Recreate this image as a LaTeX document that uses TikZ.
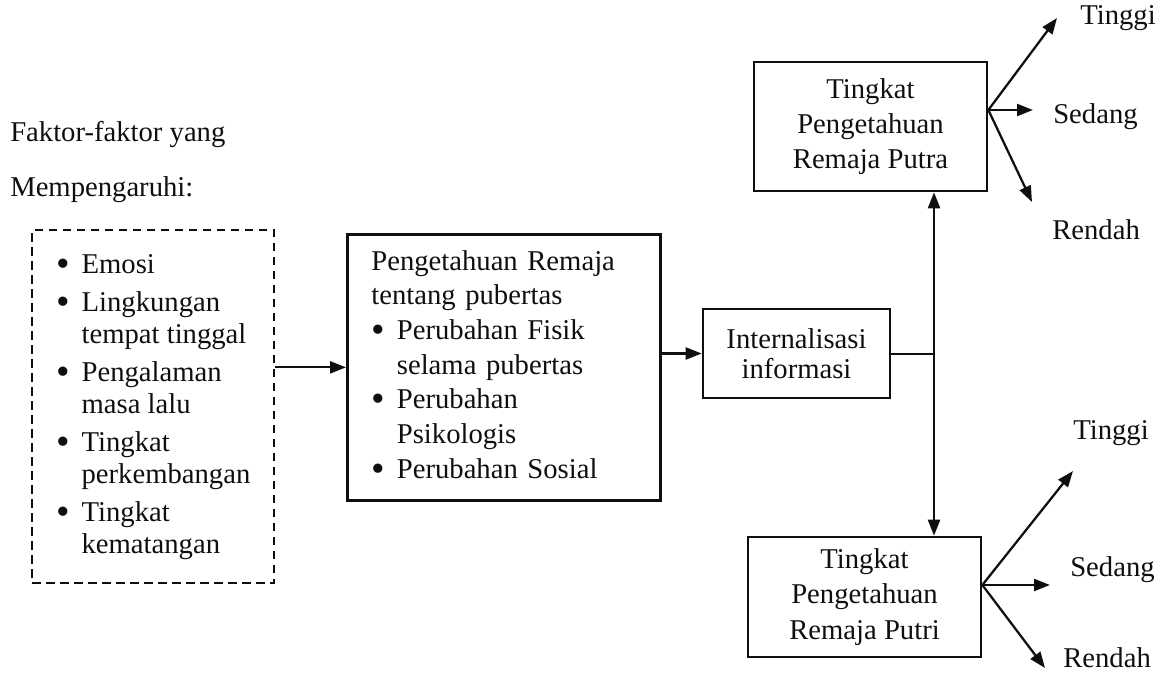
\documentclass[tikz,border=0pt]{standalone}
\usepackage{fontspec}
\setmainfont{Liberation Serif}
\usepackage{xcolor}
\usepackage{tikz}
\usetikzlibrary{positioning, arrows.meta}
\definecolor{tinta}{HTML}{0F0F0F}
\newcommand{\butir}{\raisebox{-2.2pt}{\scalebox{1.35}{\textbullet}}}

\tikzset{
  kotak/.style={draw=tinta, line width=2pt, inner sep=0pt, align=center,
                text=tinta, font=\fontsize{21.5}{26.5}\selectfont},
  kotakputus/.style={draw=tinta, line width=1.8pt, dash pattern=on 6.5pt off 4pt,
                     inner sep=0pt, text=tinta, font=\fontsize{21.5}{24}\selectfont},
  panah/.style={draw=tinta, line width=1.7pt, -{Triangle[length=12pt, width=9pt]}},
  garis/.style={draw=tinta, line width=1.7pt},
  teks/.style={anchor=west, inner sep=0pt, text=tinta, font=\fontsize{21.5}{26}\selectfont}
}

\begin{document}
\begin{tikzpicture}[x=0.75pt, y=-0.75pt]
    \useasboundingbox (0,0) rectangle (1156,674);
    \node[teks] (judul) at (10,135) {Faktor-faktor yang};
    \node[teks] (mempengaruhi) at (10,190) {Mempengaruhi:};
    \node[kotakputus, anchor=north west, minimum width=181.5pt, minimum height=264.75pt]
        (faktor) at (31,229) {%
      \begin{tabular}{@{}l@{\hspace{9pt}}l@{}}
      \butir & Emosi\\[4.5pt]
      \butir & Lingkungan\\
             & tempat tinggal\\[4.5pt]
      \butir & Pengalaman\\
             & masa lalu\\[4.5pt]
      \butir & Tingkat\\
             & perkembangan\\[4.5pt]
      \butir & Tingkat\\
             & kematangan
      \end{tabular}};
    \node[kotak, anchor=north west, align=left, text width=198.75pt, inner xsep=18pt,
          minimum height=199.5pt, font=\fontsize{21.5}{26}\selectfont]
        (pengetahuan) at (346,233) {%
      \noindent\begin{tabular}{@{}l@{\hspace{9pt}}l@{}}
      \multicolumn{2}{@{}l@{}}{Pengetahuan Remaja}\\
      \multicolumn{2}{@{}l@{}}{tentang pubertas}\\
      \butir & Perubahan Fisik\\
             & selama pubertas\\
      \butir & Perubahan\\
             & Psikologis\\
      \butir & Perubahan Sosial
      \end{tabular}};
    \node[kotak, minimum width=140.25pt, minimum height=66.75pt,
          font=\fontsize{21.5}{22.5}\selectfont]
        (internalisasi) at (796.5,353.5) {Internalisasi\\informasi};
    \node[kotak, minimum width=174.75pt, minimum height=96.75pt]
        (putra) at (870.5,126.5) {Tingkat\\Pengetahuan\\Remaja Putra};
    \node[kotak, minimum width=174.75pt, minimum height=90pt]
        (putri) at (864.5,597) {Tingkat\\Pengetahuan\\Remaja Putri};

    \coordinate (cabang) at (934,354);
    \coordinate (putraout) at (putra.east |- 0,110);
    \coordinate (putriout) at (putri.east |- 0,585);
    \coordinate (tinggiA) at (1057,18);
    \coordinate (sedangA) at (1033,110);
    \coordinate (rendahA) at (1032,202);
    \coordinate (tinggiB) at (1073,471);
    \coordinate (sedangB) at (1050,585);
    \coordinate (rendahB) at (1045,668);

    \node[teks] (tinggiputra) at (1080,18) {Tinggi};
    \node[teks] (sedangputra) at (1053,117) {Sedang};
    \node[teks] (rendahputra) at (1052,230) {Rendah};
    \node[teks] (tinggiputri) at (1073,433) {Tinggi};
    \node[teks] (sedangputri) at (1070,570) {Sedang};
    \node[teks] (rendahputri) at (1063,658) {Rendah};

    \draw[panah] (faktor.east |- pengetahuan.west) -- (pengetahuan.west);
    \draw[panah] (pengetahuan.east |- internalisasi.west) -- (internalisasi.west);
    \draw[garis] (internalisasi.east |- cabang) -- (cabang);
    \draw[panah] (cabang) -- (cabang |- putra.south);
    \draw[panah] (cabang) -- (cabang |- putri.north);
    \foreach \ujung in {tinggiA, sedangA, rendahA}
      \draw[panah] (putraout) -- (\ujung);
    \foreach \ujung in {tinggiB, sedangB, rendahB}
      \draw[panah] (putriout) -- (\ujung);
\end{tikzpicture}
\end{document}
